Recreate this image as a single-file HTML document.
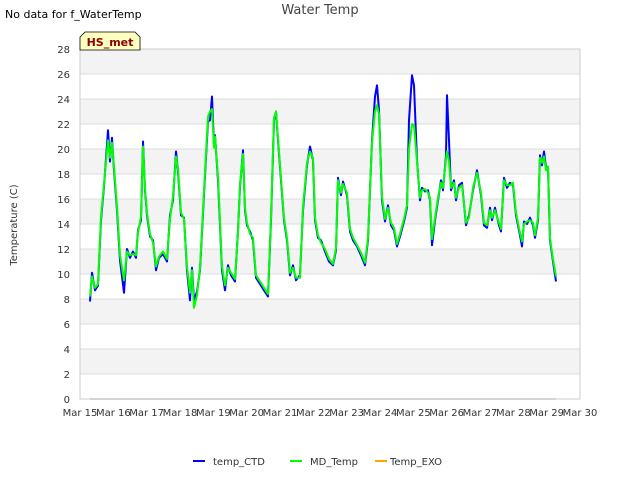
<!DOCTYPE html>
<html><head><meta charset="utf-8"><style>
body{margin:0;background:#fff;font-family:"Liberation Sans","DejaVu Sans",sans-serif;}
svg text{font-family:"DejaVu Sans","Liberation Sans",sans-serif;}
</style></head><body>
<svg id="chart" width="640" height="480" viewBox="0 0 640 480" xmlns="http://www.w3.org/2000/svg">
<rect width="640" height="480" fill="#fff"/>
<text x="5" y="18" font-size="11" fill="#000">No data for f_WaterTemp</text>
<text x="320" y="14" font-size="13" fill="#444" text-anchor="middle">Water Temp</text>
<g id="plot"></g>
<text transform="translate(17,225) rotate(-90)" font-size="10" fill="#333" text-anchor="middle">Temperature (C)</text>
<g>
<path d="M80,50 L80,37 L85,32 L135,32 L140,37 L140,50 Z" fill="#ffffc0" stroke="#000" stroke-width="0.8"/>
<text x="110" y="46" font-size="11" font-weight="bold" fill="#8b0000" text-anchor="middle">HS_met</text>
</g>
<g>
<g><line x1="193" y1="461" x2="205" y2="461" stroke="#0000ff" stroke-width="2"/><text x="213" y="465" font-size="10" fill="#333">temp_CTD</text></g>
<g><line x1="290" y1="461" x2="302" y2="461" stroke="#00ff00" stroke-width="2"/><text x="310" y="465" font-size="10" fill="#333">MD_Temp</text></g>
<g><line x1="375" y1="461" x2="387" y2="461" stroke="#ffa500" stroke-width="2"/><text x="390" y="465" font-size="10" fill="#333">Temp_EXO</text></g>
</g>
</svg>
<script>
const yTicks=[0,2,4,6,8,10,12,14,16,18,20,22,24,26,28];
const xTickDays=[15,16,17,18,19,20,21,22,23,24,25,26,27,28,29,30];
const xTickLabels=["Mar 15","Mar 16","Mar 17","Mar 18","Mar 19","Mar 20","Mar 21","Mar 22","Mar 23","Mar 24","Mar 25","Mar 26","Mar 27","Mar 28","Mar 29","Mar 30"];
const times=[15.30,15.36,15.45,15.54,15.63,15.72,15.84,15.90,15.96,16.02,16.11,16.20,16.32,16.41,16.50,16.59,16.68,16.74,16.83,16.89,16.95,17.01,17.10,17.19,17.28,17.37,17.49,17.61,17.70,17.79,17.88,17.94,18.03,18.12,18.21,18.30,18.36,18.42,18.51,18.60,18.75,18.84,18.90,18.96,19.02,19.05,19.14,19.26,19.35,19.44,19.53,19.65,19.74,19.80,19.89,19.95,20.01,20.10,20.19,20.28,20.40,20.52,20.64,20.73,20.82,20.88,20.94,21.03,21.12,21.21,21.30,21.39,21.48,21.60,21.69,21.81,21.90,21.99,22.05,22.14,22.23,22.35,22.47,22.59,22.68,22.74,22.83,22.89,23.01,23.10,23.19,23.31,23.43,23.55,23.64,23.76,23.85,23.91,23.97,24.06,24.15,24.24,24.33,24.42,24.51,24.60,24.72,24.81,24.87,24.96,25.02,25.11,25.20,25.26,25.35,25.44,25.50,25.56,25.65,25.74,25.83,25.89,25.98,26.01,26.07,26.13,26.22,26.28,26.37,26.46,26.58,26.67,26.79,26.91,27.03,27.12,27.21,27.30,27.36,27.45,27.57,27.63,27.72,27.81,27.90,27.99,28.08,28.20,28.26,28.32,28.41,28.50,28.59,28.65,28.74,28.80,28.86,28.92,28.98,29.04,29.10,29.19,29.28];
const ctdValues=[7.8,10.1,8.7,9.1,14.3,17,21.5,19,20.9,18.3,15.1,11.1,8.5,12,11.3,11.8,11.3,13.5,14.3,20.6,16.7,14.7,13,12.7,10.3,11.3,11.6,11,14.7,15.9,19.8,18.2,14.7,14.5,10.3,7.9,10.5,7.9,8.6,10.3,17.9,22.2,22.3,24.2,20.3,21.1,17.5,10.3,8.7,10.7,9.9,9.4,13.5,17,19.9,15.1,13.9,13.4,12.7,9.7,9.2,8.7,8.2,14.3,22.3,23,20.7,17.5,14.3,12.7,9.9,10.7,9.5,9.9,15.1,18.7,20.2,19.1,14.3,12.9,12.7,11.8,11,10.7,11.9,17.7,16.3,17.4,16.3,13.4,12.7,12.2,11.5,10.7,12.7,20.7,24.2,25.1,23.1,15.9,14.2,15.5,13.9,13.5,12.2,13,14.2,15.3,22.3,25.9,25.1,19.1,15.9,16.9,16.6,16.7,15.9,12.3,14.3,15.9,17.5,16.7,19.5,24.3,20.7,16.7,17.5,15.9,17.1,17.3,13.9,14.7,16.7,18.3,16.3,13.9,13.7,15.3,14.3,15.3,13.9,13.4,17.7,16.9,17.3,17.1,14.7,13.1,12.2,14.2,14.0,14.5,13.9,12.9,14.3,19.5,18.7,19.8,18.5,18.5,12.7,11,9.4];
const mdValues=[8.2,9.8,8.9,9.2,14.6,17.2,20.7,19.3,20.5,18.6,15.4,11.5,9.5,11.8,11.5,11.6,11.5,13.3,14.6,20.2,16.9,14.9,13.2,12.5,10.6,11.4,11.8,11.2,14.4,16.2,19.4,18.5,14.9,14.4,10.6,8.5,10.3,7.3,8.3,10.5,18.2,22.6,23,23.2,20.1,21,17.8,10.6,9.1,10.5,10.1,9.6,13.3,17.2,19.6,15.3,14.1,13.2,12.9,9.9,9.4,8.9,8.4,14.6,22.5,23,20.9,17.7,14.5,12.9,10.1,10.5,9.7,9.7,15.4,18.9,19.8,19.3,14.5,13.1,12.5,12,11.2,10.8,12.1,17.5,16.5,17.2,16.5,13.6,12.9,12.3,11.7,10.9,12.9,20.5,23,23.5,22.8,16.2,14.4,15.3,14.1,13.7,12.4,13.2,14.4,15.5,20,22,21.9,19,16.1,16.7,16.8,16.5,16.1,12.8,14.5,16.1,17.3,16.9,19.2,19.8,19,16.9,17.3,16.1,16.9,17.1,14.1,14.5,16.9,18.1,16.5,14.1,13.9,15.1,14.5,15.1,14.1,13.6,17.5,17.1,17.1,17.3,14.9,13.3,12.6,14,14.2,14.3,14.1,13.1,14.5,19.3,18.9,19.4,18.3,18.6,12.9,11.2,9.8];
const exoTimes=[15.30,29.28];
const exoValues=[0,0];

const NS="http://www.w3.org/2000/svg";
const L=80,R=580,T=49,B=399;
const xS=d=>L+(d-15)/15*(R-L);
const yS=v=>B-v/28*(B-T);
const plot=document.getElementById('plot');
function mk(tag,attrs,parent){const e=document.createElementNS(NS,tag);for(const k in attrs)e.setAttribute(k,attrs[k]);(parent||plot).appendChild(e);return e;}
mk('rect',{x:L,y:T,width:R-L,height:B-T,fill:'#fff'});
for(let i=0;i<yTicks.length-1;i++){
  if(i%2===1){const b=mk('rect',{x:L,y:yS(yTicks[i+1]),width:R-L,height:yS(yTicks[i])-yS(yTicks[i+1]),fill:'#f3f3f3'});
  
  }
}
yTicks.forEach(v=>{
  const g=mk('line',{x1:L,x2:R,y1:yS(v),y2:yS(v),stroke:'#dddddd','stroke-width':1});
  
  
  const t=mk('text',{x:L-10,y:yS(v)+4,'font-size':10,fill:'#333','text-anchor':'end'});
  t.textContent=v;
  
  
});
xTickDays.forEach((d,i)=>{
  const t=mk('text',{x:xS(d),y:B+17,'font-size':10,fill:'#333','text-anchor':'middle'});
  t.textContent=xTickLabels[i];
  
  
});
const frame=mk('rect',{x:L,y:T,width:R-L,height:B-T,fill:'none',stroke:'#ccc'});


function series(ts,vs,color,name,w){
  const p=mk('polyline',{points:ts.map((t,i)=>xS(t).toFixed(1)+','+yS(vs[i]).toFixed(1)).join(' '),fill:'none',stroke:color,'stroke-width':w,'stroke-linejoin':'round'});
  
  
}
series(exoTimes,exoValues,'#bbbbbb','temp-exo-line',1.2);
series(times,ctdValues,'#0000ff','temp-ctd-line',2);
series(times,mdValues,'#00ff00','md-temp-line',2);
</script>
</body></html>
